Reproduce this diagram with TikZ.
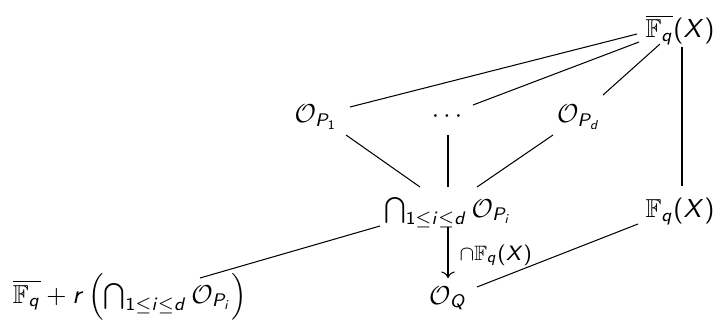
\documentclass[tikz,border=0pt]{standalone}
\usepackage{amssymb}
\usetikzlibrary{arrows.meta}
\DeclareSymbolFont{sfletters}{OT1}{cmss}{m}{sl}
\DeclareSymbolFont{sfupright}{OT1}{cmss}{m}{n}
\DeclareMathSymbol{q}{\mathalpha}{sfletters}{`q}
\DeclareMathSymbol{X}{\mathalpha}{sfletters}{`X}
\DeclareMathSymbol{r}{\mathalpha}{sfletters}{`r}
\DeclareMathSymbol{i}{\mathalpha}{sfletters}{`i}
\DeclareMathSymbol{d}{\mathalpha}{sfletters}{`d}
\DeclareMathSymbol{P}{\mathalpha}{sfletters}{`P}
\DeclareMathSymbol{Q}{\mathalpha}{sfletters}{`Q}
\DeclareMathSymbol{1}{\mathalpha}{sfupright}{`1}
\DeclareMathSymbol{(}{\mathopen}{sfupright}{`(}
\DeclareMathSymbol{)}{\mathclose}{sfupright}{`)}
\begin{document}
\begin{tikzpicture}[x=0.385pt,y=-0.385pt,
  cell/.style={anchor=base, inner sep=0pt},
  edge/.style={draw, line width=0.4pt},
  lbl/.style={font=\footnotesize, anchor=base west, inner sep=0pt}]
\useasboundingbox (0,0) rectangle (718,321);
\node[cell] (top) at (680,38) {$\overline{\mathbb{F}_q}(X)$};
\node[cell] (p1) at (316,123) {$\mathcal{O}_{P_1}$};
\node[cell] (dots) at (447,123) {$\cdots$};
\node[cell] (pd) at (579,123) {$\mathcal{O}_{P_d}$};
\node[cell] (cap) at (448,217) {$\bigcap_{1\le i\le d}\mathcal{O}_{P_i}$};
\node[cell] (fq) at (680,218) {$\mathbb{F}_q(X)$};
\node[cell] (bl) at (130,303) {$\overline{\mathbb{F}_q}+r\left(\bigcap_{1\le i\le d}\mathcal{O}_{P_i}\right)$};
\node[cell] (oq) at (448,304) {$\mathcal{O}_Q$};
\node[lbl] (lab) at (459,260) {$\cap\mathbb{F}_q(X)$};
\draw[edge] ([shift={(-43,-4)}]top.base) -- ([shift={(34,-16)}]p1.base);
\draw[edge] ([shift={(-41,4)}]top.base) -- ([shift={(26,-18)}]dots.base);
\draw[edge] ([shift={(-20,6)}]top.base) -- ([shift={(24,-28)}]pd.base);
\draw[edge] ([shift={(2,9)}]top.base) -- ([shift={(2,-32)}]fq.base);
\draw[edge] ([shift={(30,12)}]p1.base) -- ([shift={(-28,-30)}]cap.base);
\draw[edge] ([shift={(1,12)}]dots.base) -- ([shift={(0,-30)}]cap.base);
\draw[edge] ([shift={(-26,12)}]pd.base) -- ([shift={(29,-30)}]cap.base);
\draw[edge] ([shift={(-68,9)}]cap.base) -- ([shift={(70,-25)}]bl.base);
\draw[edge] ([shift={(-42,6)}]fq.base) -- ([shift={(29,-17)}]oq.base);
\draw[edge,-{Computer Modern Rightarrow[length=2.5pt]}] ([shift={(0,10)}]cap.base) -- ([shift={(0,-26)}]oq.base);
\end{tikzpicture}
\end{document}
